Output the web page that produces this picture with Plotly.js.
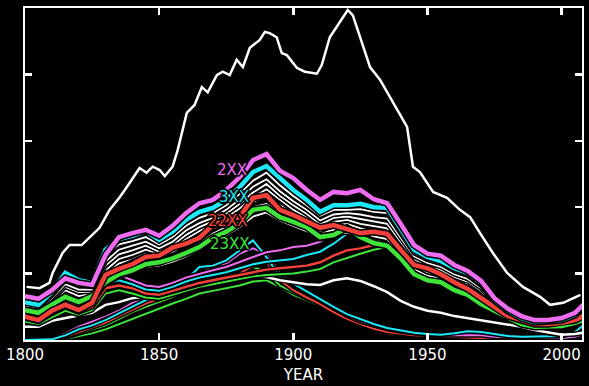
<!DOCTYPE html>
<html>
<head>
<meta charset="utf-8">
<script src="https://cdn.plot.ly/plotly-3.0.1.min.js"></script>
<style>
html,body{margin:0;padding:0;background:#000;}
#chart{width:589px;height:386px;}
</style>
</head>
<body>
<div id="chart"></div>
<script>
var years = [1800,1805,1810,1815,1820,1825,1830,1835,1840,1845,1850,1855,1860,1865,1870,1875,1880,1885,1890,1895,1900,1905,1910,1915,1920,1925,1930,1935,1940,1945,1950,1955,1960,1965,1970,1975,1980,1985,1990,1995,2000,2005,2008];

var totalYears = [1800.6,1805.4,1809.1,1810.3,1814.0,1816.6,1821.1,1824.1,1827.8,1831.5,1835.3,1837.9,1840.9,1842.7,1845.3,1847.6,1850.2,1852.1,1855.0,1856.9,1860.3,1863.2,1865.9,1868.1,1871.5,1873.7,1876.3,1878.9,1881.2,1883.8,1887.5,1889.4,1891.2,1893.8,1895.7,1897.6,1901.3,1904.3,1908.8,1910.6,1913.6,1917.4,1920.3,1922.2,1924.8,1928.6,1932.3,1936.0,1939.7,1942.4,1944.6,1947.2,1952.1,1957.3,1962.1,1965.9,1969.6,1974.4,1979.7,1985.6,1992.0,1995.7,2000.6,2007.0];
var totalWhite = [0.80,0.78,0.86,1.01,1.31,1.43,1.43,1.54,1.69,1.96,2.15,2.30,2.48,2.59,2.52,2.61,2.56,2.47,2.61,2.86,3.42,3.54,3.81,3.73,3.99,4.04,3.99,4.22,4.11,4.40,4.52,4.64,4.62,4.56,4.32,4.29,4.10,4.04,4.01,4.14,4.56,4.79,4.97,4.89,4.56,4.11,3.92,3.66,3.39,3.21,2.61,2.53,2.23,2.14,1.96,1.85,1.61,1.31,1.01,0.80,0.65,0.53,0.56,0.68];

var lowerWhite = [0.20,0.20,0.29,0.33,0.36,0.41,0.53,0.57,0.63,0.66,0.68,0.71,0.75,0.80,0.83,0.87,0.93,0.96,0.95,0.90,0.87,0.84,0.83,0.90,0.93,0.89,0.81,0.72,0.59,0.50,0.44,0.41,0.36,0.33,0.30,0.27,0.23,0.20,0.15,0.11,0.08,0.09,0.11];

var band1 = [0.52,0.49,0.67,0.90,0.83,0.80,1.28,1.44,1.49,1.55,1.44,1.55,1.72,1.84,1.91,2.03,2.20,2.40,2.52,2.33,2.17,2.03,1.87,1.96,1.96,1.97,1.93,1.91,1.61,1.31,1.21,1.15,1.04,0.97,0.82,0.58,0.42,0.32,0.26,0.27,0.29,0.36,0.48];
var band2 = [0.49,0.46,0.63,0.84,0.76,0.76,1.18,1.36,1.42,1.48,1.38,1.48,1.65,1.76,1.84,1.96,2.12,2.31,2.42,2.24,2.09,1.96,1.80,1.89,1.91,1.89,1.85,1.83,1.54,1.26,1.16,1.10,0.99,0.92,0.78,0.55,0.40,0.30,0.25,0.26,0.27,0.34,0.45];
var band3 = [0.50,0.44,0.60,0.80,0.72,0.73,1.12,1.29,1.35,1.42,1.33,1.43,1.58,1.70,1.79,1.90,2.05,2.22,2.35,2.17,2.03,1.90,1.74,1.84,1.86,1.82,1.78,1.75,1.48,1.22,1.11,1.06,0.95,0.88,0.74,0.52,0.38,0.29,0.24,0.25,0.26,0.33,0.43];
var band4 = [0.47,0.43,0.58,0.75,0.66,0.70,1.05,1.22,1.28,1.36,1.30,1.38,1.52,1.64,1.74,1.84,1.98,2.15,2.27,2.11,1.96,1.84,1.70,1.78,1.81,1.75,1.71,1.68,1.42,1.17,1.06,1.02,0.91,0.84,0.70,0.50,0.37,0.28,0.23,0.24,0.25,0.32,0.41];
var band5 = [0.44,0.40,0.55,0.70,0.62,0.66,0.99,1.15,1.21,1.30,1.26,1.33,1.44,1.57,1.68,1.78,1.90,2.08,2.18,2.03,1.90,1.79,1.64,1.72,1.75,1.68,1.63,1.60,1.36,1.12,1.02,0.97,0.86,0.79,0.66,0.48,0.35,0.27,0.22,0.23,0.24,0.31,0.40];
var band6 = [0.39,0.35,0.49,0.60,0.52,0.61,0.92,1.03,1.10,1.19,1.20,1.27,1.35,1.45,1.60,1.70,1.82,2.00,2.05,1.90,1.84,1.74,1.62,1.66,1.71,1.63,1.56,1.52,1.30,1.07,0.97,0.93,0.82,0.72,0.60,0.46,0.34,0.26,0.21,0.22,0.23,0.29,0.38];
var band7 = [0.36,0.32,0.45,0.55,0.48,0.55,0.84,0.95,1.02,1.10,1.12,1.18,1.26,1.36,1.50,1.58,1.70,1.86,1.92,1.80,1.72,1.64,1.52,1.58,1.62,1.55,1.50,1.46,1.26,1.03,0.94,0.90,0.79,0.70,0.58,0.44,0.33,0.25,0.20,0.21,0.22,0.28,0.36];

var midMagenta = [0.52,0.48,0.60,0.72,0.66,0.70,0.95,0.98,0.90,0.82,0.80,0.86,0.94,1.00,1.05,1.10,1.18,1.25,1.32,1.35,1.40,1.42,1.48,1.62,1.78,1.84,1.85,1.82,1.60,1.33,1.22,1.16,1.05,0.97,0.83,0.59,0.45,0.34,0.28,0.29,0.31,0.39,0.50];
var midCyan = [0.42,0.40,0.52,0.66,0.60,0.64,0.86,0.90,0.84,0.76,0.74,0.80,0.88,0.94,0.98,1.02,1.08,1.14,1.18,1.20,1.22,1.28,1.33,1.45,1.60,1.72,1.76,1.76,1.55,1.28,1.18,1.12,1.01,0.94,0.80,0.57,0.42,0.32,0.26,0.27,0.28,0.36,0.47];
var midRed = [0.33,0.28,0.40,0.50,0.42,0.50,0.78,0.82,0.78,0.70,0.68,0.74,0.80,0.86,0.90,0.94,0.98,1.02,1.06,1.08,1.10,1.12,1.17,1.27,1.35,1.38,1.43,1.47,1.30,1.08,1.00,0.95,0.84,0.75,0.62,0.48,0.35,0.28,0.23,0.23,0.25,0.29,0.35];
var midGreen = [0.28,0.24,0.34,0.44,0.38,0.45,0.70,0.75,0.70,0.64,0.62,0.68,0.74,0.80,0.84,0.88,0.92,0.96,0.98,0.99,1.00,1.03,1.07,1.17,1.24,1.30,1.36,1.40,1.22,1.00,0.92,0.88,0.78,0.70,0.57,0.45,0.33,0.25,0.21,0.21,0.22,0.27,0.32];

var lowMagenta = [0.00,0.00,0.02,0.10,0.20,0.27,0.35,0.44,0.56,0.63,0.70,0.78,0.85,0.98,1.12,1.15,1.30,1.38,1.30,1.00,0.85,0.72,0.60,0.48,0.37,0.28,0.22,0.17,0.13,0.10,0.08,0.07,0.07,0.08,0.07,0.05,0.04,0.03,0.03,0.03,0.03,0.05,0.09];
var lowCyan = [0.00,0.00,0.01,0.07,0.16,0.22,0.30,0.40,0.50,0.60,0.70,0.78,0.90,1.10,1.12,1.20,1.35,1.50,1.25,0.95,0.85,0.73,0.61,0.50,0.39,0.31,0.24,0.18,0.14,0.11,0.09,0.08,0.10,0.13,0.12,0.09,0.06,0.05,0.05,0.05,0.06,0.12,0.22];
var lowRed = [0.00,0.00,0.01,0.05,0.12,0.18,0.26,0.36,0.46,0.55,0.62,0.72,0.80,0.86,0.90,0.95,1.00,1.12,1.18,0.90,0.75,0.64,0.54,0.42,0.32,0.24,0.17,0.12,0.09,0.07,0.06,0.05,0.04,0.04,0.03,0.03,0.02,0.02,0.02,0.02,0.03,0.04,0.06];
var lowGreen = [0.00,0.00,0.00,0.04,0.10,0.15,0.22,0.32,0.42,0.50,0.57,0.65,0.75,0.86,0.95,0.88,0.95,1.10,1.02,0.82,0.72,0.63,0.55,0.44,0.33,0.25,0.18,0.12,0.09,0.08,0.06,0.05,0.05,0.04,0.04,0.04,0.03,0.03,0.03,0.03,0.03,0.06,0.10];
var lowGreen2 = [0.00,0.00,0.00,0.02,0.06,0.10,0.16,0.24,0.32,0.40,0.48,0.55,0.62,0.70,0.74,0.78,0.82,0.88,0.90,0.80,0.68,0.60,0.52,0.42,0.32,0.24,0.17,0.12,0.09,0.07,0.05,0.04,0.03,0.03,0.03,0.02,0.02,0.02,0.02,0.02,0.02,0.03,0.05];

var s2XX = [0.66,0.62,0.75,0.93,0.86,0.83,1.28,1.55,1.61,1.66,1.57,1.72,1.91,2.06,2.11,2.26,2.45,2.71,2.80,2.55,2.44,2.26,2.11,2.23,2.21,2.26,2.12,2.06,1.75,1.43,1.30,1.27,1.13,1.04,0.89,0.63,0.47,0.36,0.30,0.30,0.33,0.41,0.53];
var s3XX = [0.57,0.53,0.72,1.01,0.90,0.86,1.36,1.52,1.57,1.64,1.51,1.63,1.81,1.93,1.99,2.11,2.30,2.53,2.62,2.44,2.26,2.11,1.93,2.03,2.03,2.05,2.00,1.99,1.67,1.36,1.25,1.19,1.08,1.01,0.86,0.60,0.44,0.33,0.27,0.29,0.30,0.38,0.51];
var s22XX = [0.35,0.30,0.44,0.53,0.45,0.56,0.98,1.07,1.14,1.25,1.27,1.39,1.45,1.54,1.73,1.81,1.85,2.14,2.18,1.96,1.88,1.78,1.69,1.73,1.67,1.61,1.63,1.60,1.36,1.13,1.08,0.99,0.87,0.77,0.63,0.50,0.36,0.30,0.24,0.24,0.26,0.30,0.36];
var s23XX = [0.45,0.41,0.53,0.65,0.57,0.66,0.87,0.99,1.05,1.14,1.17,1.23,1.31,1.40,1.54,1.63,1.76,1.96,1.99,1.85,1.78,1.70,1.55,1.58,1.69,1.55,1.46,1.42,1.23,0.99,0.90,0.87,0.75,0.68,0.54,0.44,0.33,0.24,0.20,0.20,0.21,0.26,0.30];

var labelTexts = ['2XX','3XX','22XX','23XX'];
var xTicks = [1800,1850,1900,1950,2000];
var xTickText = ['1800','1850','1900','1950','2000'];

var MAG = '#ee6cf0', CYA = '#1de8f7', RED = '#f2413a', GRN = '#3ee43a', WHT = '#ffffff';

var traces = [];
function addLine(xs, y, color, width){
  traces.push({x: xs, y: y, mode: 'lines', line: {color: '#000', width: width + 3}, hoverinfo: 'skip', showlegend: false});
  traces.push({x: xs, y: y, mode: 'lines', line: {color: color, width: width}, hoverinfo: 'skip', showlegend: false});
}

addLine(totalYears, totalWhite, WHT, 2.5);
addLine(years, lowGreen2, GRN, 2);
addLine(years, lowGreen, GRN, 2);
addLine(years, lowRed, RED, 2);
addLine(years, lowMagenta, MAG, 2);
addLine(years, lowCyan, CYA, 2);
addLine(years, lowerWhite, WHT, 2.5);
addLine(years, midGreen, GRN, 2);
addLine(years, midRed, RED, 2.5);
addLine(years, midCyan, CYA, 2);
addLine(years, midMagenta, MAG, 2);
addLine(years, band7, WHT, 1.8);
addLine(years, band6, WHT, 1.8);
addLine(years, band5, WHT, 1.8);
addLine(years, band4, WHT, 1.8);
addLine(years, band3, WHT, 1.8);
addLine(years, band2, WHT, 1.8);
addLine(years, band1, WHT, 1.8);
addLine(years, s23XX, GRN, 4.5);
addLine(years, s22XX, RED, 4.5);
addLine(years, s3XX, CYA, 4.5);
addLine(years, s2XX, MAG, 4.5);

var shadow = '1px 1px 0 #000, -1px -1px 0 #000, 1px -1px 0 #000, -1px 1px 0 #000, 2px 0 0 #000, -2px 0 0 #000, 0 2px 0 #000, 0 -2px 0 #000';
var labelPos = [[1877.1, 2.56], [1877.8, 2.15], [1875.6, 1.79], [1876.3, 1.45]];
var labelColors = [MAG, CYA, RED, GRN];
var annotations = labelTexts.map(function(t, i){
  return {x: labelPos[i][0], y: labelPos[i][1], xref: 'x', yref: 'y', text: t, showarrow: false,
    xanchor: 'center', yanchor: 'middle',
    font: {family: 'DejaVu Sans, sans-serif', size: 15, color: labelColors[i], shadow: shadow}};
});

var layout = {
  width: 589, height: 386,
  margin: {l: 25, r: 7, t: 8, b: 46},
  paper_bgcolor: '#000', plot_bgcolor: '#000',
  showlegend: false,
  font: {family: 'DejaVu Sans, sans-serif', color: '#fff', size: 15},
  xaxis: {
    range: [1800, 2007.6], tickvals: xTicks, ticktext: xTickText,
    showgrid: false, zeroline: false,
    showline: true, linecolor: '#fff', linewidth: 2, mirror: 'ticks',
    ticks: 'inside', ticklen: 7, tickwidth: 2.5, tickcolor: '#fff',
    tickfont: {color: '#fff', size: 15},
    title: {text: 'YEAR', font: {color: '#fff', size: 15}, standoff: 6}
  },
  yaxis: {
    range: [0, 5], tickvals: [1, 2, 3, 4], showticklabels: false,
    showgrid: false, zeroline: false,
    showline: true, linecolor: '#fff', linewidth: 2, mirror: 'ticks',
    ticks: 'inside', ticklen: 7, tickwidth: 2.5, tickcolor: '#fff'
  },
  annotations: annotations
};

Plotly.newPlot('chart', traces, layout, {displayModeBar: false, staticPlot: true});
</script>
</body>
</html>
